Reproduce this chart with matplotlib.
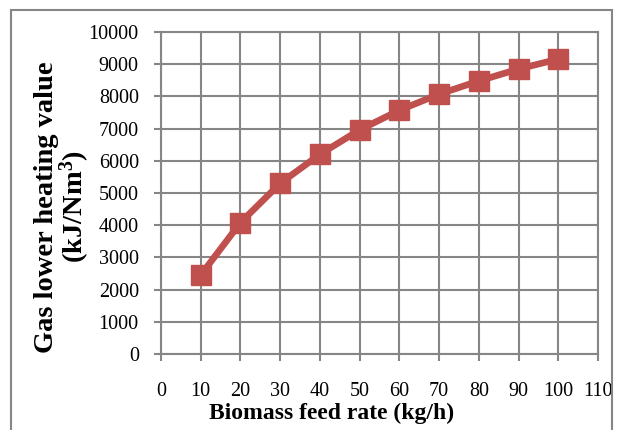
import matplotlib
matplotlib.use("Agg")
import matplotlib.pyplot as plt
from matplotlib.patches import Rectangle

feed_rate = [10, 20, 30, 40, 50, 60, 70, 80, 90, 100]
lhv = [2450, 4080, 5300, 6200, 6960, 7570, 8070, 8480, 8850, 9160]
x_ticks = list(range(0, 111, 10))
y_ticks = list(range(0, 10001, 1000))

plt.rcParams['font.family'] = ['Liberation Serif', 'DejaVu Serif']
plt.rcParams['mathtext.fontset'] = 'custom'
plt.rcParams['mathtext.rm'] = 'Liberation Serif'
plt.rcParams['mathtext.bf'] = 'Liberation Serif:bold'

W, H = 617, 430
fig = plt.figure(figsize=(W / 100, H / 100), dpi=100)
ax = fig.add_axes([161 / W, 1 - 354 / H, (598 - 161) / W, (354 - 32) / H])

grid_c = '#868686'
ax.plot(feed_rate, lhv, color='#C0504D', lw=4.8, marker='s', markersize=14.5,
        markerfacecolor='#C0504D', markeredgecolor='#C0504D', zorder=3, clip_on=False)

ax.set_xlim(0, 110)
ax.set_ylim(0, 10000)
ax.set_xticks(x_ticks)
ax.set_yticks(y_ticks)
ax.grid(True, color=grid_c, lw=1.5)
for s in ax.spines.values():
    s.set_color(grid_c)
    s.set_linewidth(1.5)
ax.tick_params(axis='both', colors=grid_c, length=5, width=1.5, labelcolor='black',
               labelsize=14.5)
ax.tick_params(axis='x', pad=15)
ax.tick_params(axis='y', pad=11)

fig.text(332 / W, 1 - 413 / H, 'Biomass feed rate (kg/h)', fontsize=17,
         fontweight='bold', ha='center', va='center')
fig.text(63 / W, 1 - 207 / H, 'Gas lower heating value\n(kJ/Nm$\\mathbf{^3}$)',
         fontsize=20.5, fontweight='bold', rotation=90, ha='center', va='center',
         multialignment='center', linespacing=0.95)

fig.patches.append(Rectangle((11 / W, -0.05), (612 - 11) / W, 1.05 - 10 / H,
                             transform=fig.transFigure, fill=False,
                             edgecolor=grid_c, lw=1.5))

fig.savefig('out.png', dpi=100)
